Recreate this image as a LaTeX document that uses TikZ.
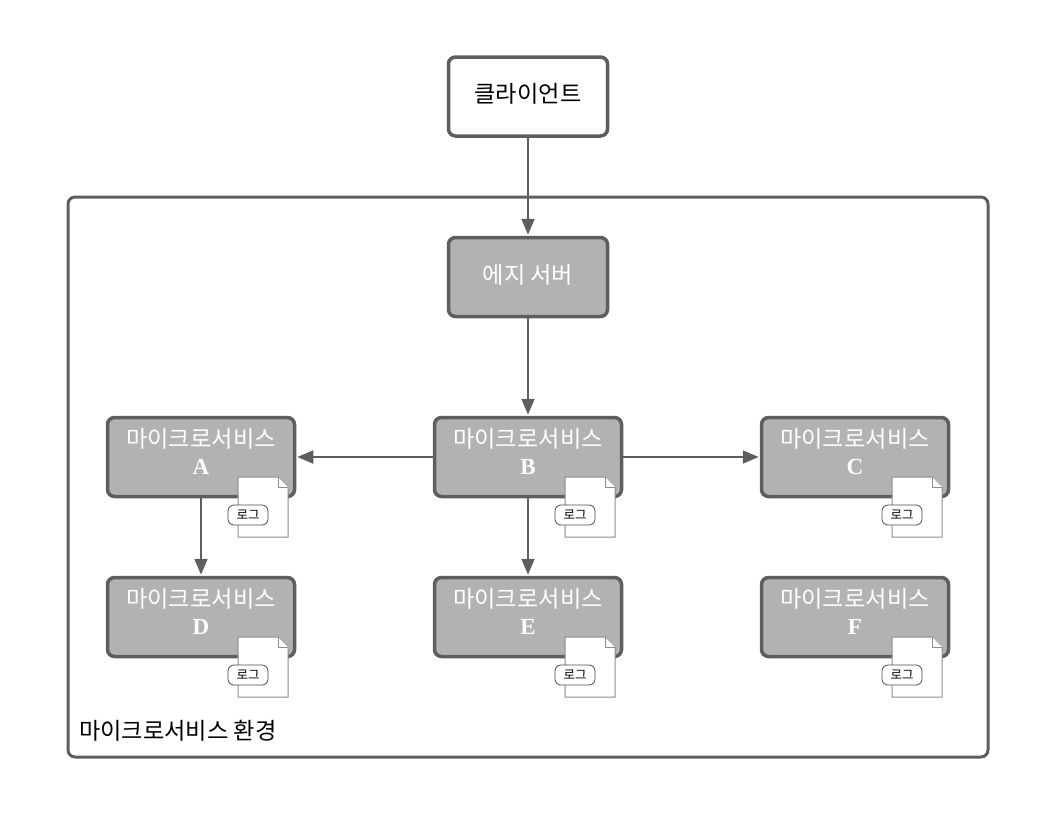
\documentclass[tikz,border=0pt]{standalone}
\usepackage{fontspec}
\usepackage{tikz}
\usetikzlibrary{arrows.meta}
\newfontfamily\krfont{Noto Sans CJK KR}
\newfontfamily\letterfont{Liberation Serif}
\definecolor{lineGray}{HTML}{5E5E5E}
\definecolor{boxGray}{HTML}{B2B2B2}
\definecolor{docGray}{HTML}{8C8C8C}
\tikzset{
    box/.style={
        draw=lineGray,
        line width=3.5pt,
        rounded corners=7pt,
        minimum width=#1,
        minimum height=79pt,
        inner sep=0pt
    },
    box/.default=159pt,
    client/.style={box, fill=white, font=\krfont\fontsize{23.2}{26}\selectfont},
    server/.style={box, fill=boxGray, text=white, font=\krfont\fontsize{23.2}{26}\selectfont},
    service/.style={box=187pt, fill=boxGray, text=white, align=center,
        font=\krfont\fontsize{23.2}{31}\selectfont},
    flow/.style={draw=lineGray, line width=2pt, -{Triangle[length=16pt,width=13pt]}, shorten >=1pt},
    doc/.style={draw=docGray, line width=1pt, fill=white},
    fold/.style={draw=docGray, line width=1pt, fill=white},
    tag/.style={draw=black!70, line width=0.8pt, fill=white, rounded corners=6pt,
        minimum width=40pt, minimum height=20pt, inner sep=0pt,
        font=\krfont\fontsize{12.5}{14}\selectfont}
}
\newcommand{\logDoc}[2] {
	\draw[doc] (#1-25,#2+30) -- (#1-25,#2-30) -- (#1+15,#2-30) -- (#1+25,#2-20) -- (#1+25,#2+30) -- cycle;
	\draw[fold] (#1+15,#2-30) -- (#1+15,#2-20) -- (#1+25,#2-20);
}
\newcommand{\microservice}[4] {
	\node[service] (#1) at (#2,#3) {마이크로서비스\\[-4pt]{\letterfont\bfseries\fontsize{23}{24}\selectfont #4}\rule[-11pt]{0pt}{11pt}};
	\logDoc{#2+62}{#3+50}
	\node[tag] (#1log) at (#2+47,#3+58) {로그};
}
\begin{document}
\begin{tikzpicture}[x=1pt,y=-1pt]
		\useasboundingbox (0,0) rectangle (1056,814);

		% Environment frame
		\draw[draw=lineGray, line width=3pt, rounded corners=7pt] (68,197) rectangle (988,757);
		\node[font=\krfont\fontsize{23.2}{26}\selectfont, inner sep=0pt, anchor=west] (envLabel) at (79,731) {마이크로서비스 환경};

		% Upper boxes
		\node[client] (client) at (528,96.5) {클라이언트\rule[-8pt]{0pt}{8pt}};
		\node[server] (edge) at (528,277) {에지 서버\rule[-6pt]{0pt}{6pt}};

		% Service row by row
		\microservice{svcA}{201}{457}{A}
		\microservice{svcB}{528}{457}{B}
		\microservice{svcC}{855}{457}{C}
		\microservice{svcD}{201}{617}{D}
		\microservice{svcE}{528}{617}{E}
		\microservice{svcF}{855}{617}{F}

		% Calls
		\draw[flow] (client) -- (edge);
		\draw[flow] (edge) -- (svcB);
		\draw[flow] (svcB) -- (svcA);
		\draw[flow] (svcB) -- (svcC);
		\draw[flow] (svcA) -- (svcD);
		\draw[flow] (svcB) -- (svcE);

	\end{tikzpicture}
\end{document}
